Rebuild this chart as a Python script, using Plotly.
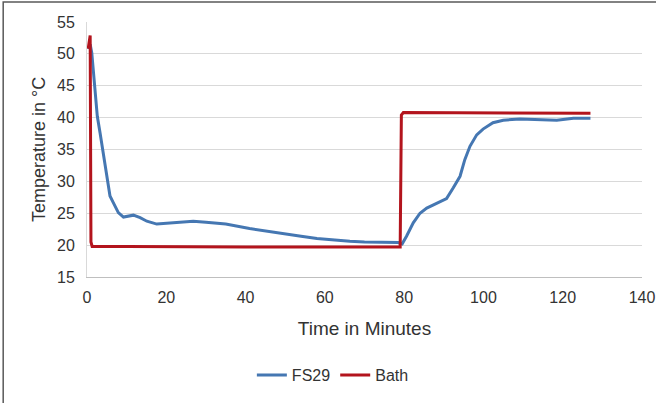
import plotly.graph_objects as go

fs29_t = [0.3, 0.8, 1.2, 1.85, 2.6, 3.3, 4.1, 5.0, 5.8, 6.6, 7.9, 9.2, 10.4, 11.7, 13.4, 15.1,
          17.6, 20.1, 23.5, 26.8, 30, 35, 41, 45, 49.5, 54, 58, 62, 66.3, 70, 74.7, 78.5, 79.5,
          80.6, 82.3, 84, 85.7, 88.2, 90.7, 92.4, 94.1, 95.3, 96.6, 98.3, 99.9, 102.4, 105,
          109.2, 114.2, 118.5, 122.7, 127]
fs29_v = [50.8, 51.5, 50.2, 45.4, 40.2, 37.6, 34.5, 31.3, 27.7, 26.7, 25.1, 24.4, 24.5, 24.7,
          24.3, 23.75, 23.3, 23.4, 23.65, 23.75, 23.6, 23.3, 22.6, 22.2, 21.8, 21.4, 21.05, 20.8,
          20.6, 20.5, 20.45, 20.4, 20.2, 21.4, 23.5, 25.0, 25.8, 26.5, 27.3, 29.0, 30.8, 33.4,
          35.5, 37.3, 38.2, 39.2, 39.6, 39.8, 39.75, 39.6, 39.9, 39.9]

bath_t = [0.3, 0.8, 1.0, 1.3, 10, 40, 79.0, 79.3, 79.8, 127]
bath_v = [50.8, 52.9, 20.5, 19.8, 19.8, 19.7, 19.7, 40.4, 40.8, 40.7]

x_ticks = [0, 20, 40, 60, 80, 100, 120, 140]
y_ticks = [15, 20, 25, 30, 35, 40, 45, 50, 55]

font = "Liberation Sans, Arial, sans-serif"
txt = "#333333"

fig = go.Figure()
fig.add_trace(go.Scatter(x=fs29_t, y=fs29_v, mode="lines", name="FS29",
                         line=dict(color="#4577B2", width=3)))
fig.add_trace(go.Scatter(x=bath_t, y=bath_v, mode="lines", name="Bath",
                         line=dict(color="#B3141D", width=3)))

fig.update_layout(
    width=656, height=403,
    margin=dict(l=87, r=14, t=22, b=125),
    paper_bgcolor="white", plot_bgcolor="white",
    font=dict(family=font, size=16, color=txt),
    showlegend=True,
    legend=dict(orientation="h", x=0.443, y=-0.379, xanchor="center", yanchor="middle",
                font=dict(size=16, color=txt), tracegroupgap=0,
                bgcolor="rgba(0,0,0,0)"),
    xaxis=dict(range=[0, 140], tickvals=x_ticks, showgrid=False, zeroline=False,
               showline=True, linecolor="#BFBFBF", linewidth=1, ticks="",
               ticklabelstandoff=6, ticklabeloverflow="allow", automargin=False,
               title=dict(text="Time in Minutes", font=dict(size=19, color=txt), standoff=16),
               tickfont=dict(size=16)),
    yaxis=dict(range=[15, 55], tickvals=y_ticks, showgrid=True, gridcolor="#D9D9D9",
               gridwidth=1, zeroline=False, showline=True, linecolor="#D9D9D9", linewidth=1,
               ticks="", ticklabelstandoff=8, automargin=False,
               title=dict(text="Temperature in °C", font=dict(size=18, color=txt),
                          standoff=6),
               tickfont=dict(size=16)),
)

fig.add_shape(type="rect", xref="paper", yref="paper", x0=-0.151, x1=1.3, y0=-0.8, y1=1.078,
              line=dict(color="#595959", width=1.5), fillcolor="rgba(0,0,0,0)", layer="above")

fig.write_html("out.html", config={"displayModeBar": False},
               post_script="document.body.style.margin='0';")
